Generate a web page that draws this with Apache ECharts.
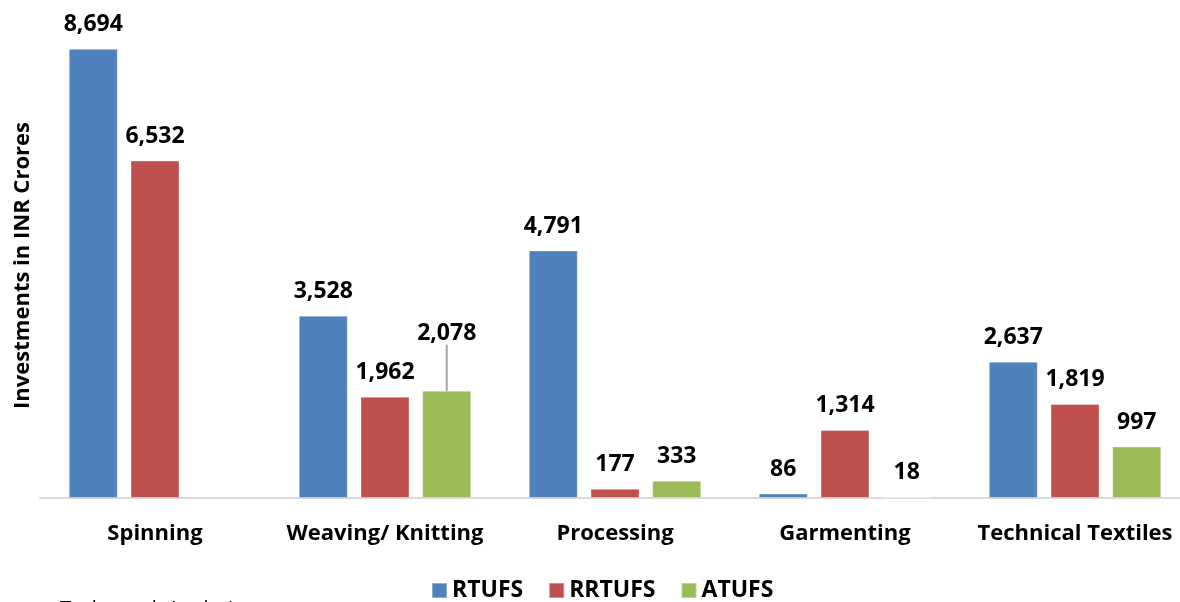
<!DOCTYPE html>
<html>
<head>
<meta charset="utf-8">
<script src="https://cdn.jsdelivr.net/npm/echarts@6/dist/echarts.min.js"></script>
<style>
html,body{margin:0;padding:0;background:#fff;}
#main{width:1180px;height:602px;}
</style>
</head>
<body>
<div id="main"></div>
<script>
const categories = ['Spinning', 'Weaving/ Knitting', 'Processing', 'Garmenting', 'Technical Textiles'];
const rtufs = [8694, 3528, 4791, 86, 2637];
const rrtufs = [6532, 1962, 177, 1314, 1819];
const atufs = [null, 2078, 333, 18, 997];
const seriesNames = ['RTUFS', 'RRTUFS', 'ATUFS'];
const colors = ['#4f81bd', '#c0504d', '#9bbb59'];
const yAxisName = 'Investments in INR Crores';
const sourceNote = 'Technopak Analysis';

const FONT = '"Open Sans", "DejaVu Sans", sans-serif';
const chart = echarts.init(document.getElementById('main'));

function fmt(v) { return v == null ? '' : v.toLocaleString('en-US'); }

function makeSeries(name, data, color, idx) {
  const items = data.map((v, i) => {
    if (idx === 2 && i === 1) {
      return {
        value: v,
        labelLine: { show: true, lineStyle: { color: '#a6a6a6', width: 2 } }
      };
    }
    return { value: v, labelLine: { show: false } };
  });
  return {
    name: name,
    type: 'bar',
    data: items,
    barWidth: 49,
    barGap: '26%',
    itemStyle: { color: color, borderColor: 'rgba(255,255,255,0.35)', borderWidth: 1 },
    label: {
      show: true,
      position: 'top',
      distance: 13,
      fontFamily: FONT,
      fontWeight: 'bold',
      fontSize: 23,
      color: '#000',
      formatter: p => fmt(p.value)
    },
    emphasis: { disabled: true }
  };
}

const series = [
  makeSeries(seriesNames[0], rtufs, colors[0], 0),
  makeSeries(seriesNames[1], rrtufs, colors[1], 1),
  makeSeries(seriesNames[2], atufs, colors[2], 2)
];
// leader line for moved label of ATUFS (Weaving/ Knitting)
series[2].labelLayout = function (params) {
  return params.dataIndex === 1 ? { dy: -33 } : {};
};

chart.setOption({
  animation: false,
  textStyle: { fontFamily: FONT },
  grid: { left: 40, width: 1150, top: 33, bottom: 104, containLabel: false, outerBoundsMode: 'none' },
  legend: {
    bottom: -5,
    left: 426,
    itemWidth: 15,
    itemHeight: 15,
    itemGap: 25,
    icon: 'rect',
    textStyle: { fontFamily: FONT, fontWeight: 'bold', fontSize: 23, color: '#000' },
    data: seriesNames
  },
  xAxis: {
    type: 'category',
    data: categories,
    axisLine: { lineStyle: { color: '#d9d9d9', width: 2 } },
    axisTick: { show: false },
    axisLabel: { fontFamily: FONT, fontWeight: 'bold', fontSize: 22, color: '#000', margin: 25, interval: 0 }
  },
  yAxis: {
    type: 'value',
    min: 0,
    max: 9000,
    name: yAxisName,
    nameLocation: 'middle',
    nameGap: 6,
    nameTextStyle: { fontFamily: FONT, fontWeight: 'bold', fontSize: 22, color: '#000' },
    axisLine: { show: false },
    axisTick: { show: false },
    axisLabel: { show: false },
    splitLine: { show: false }
  },
  graphic: [{
    type: 'text',
    left: 60,
    top: 599,
    style: { text: sourceNote, font: '20px ' + FONT, fill: '#000' }
  }],
  series: series
});
</script>
</body>
</html>
